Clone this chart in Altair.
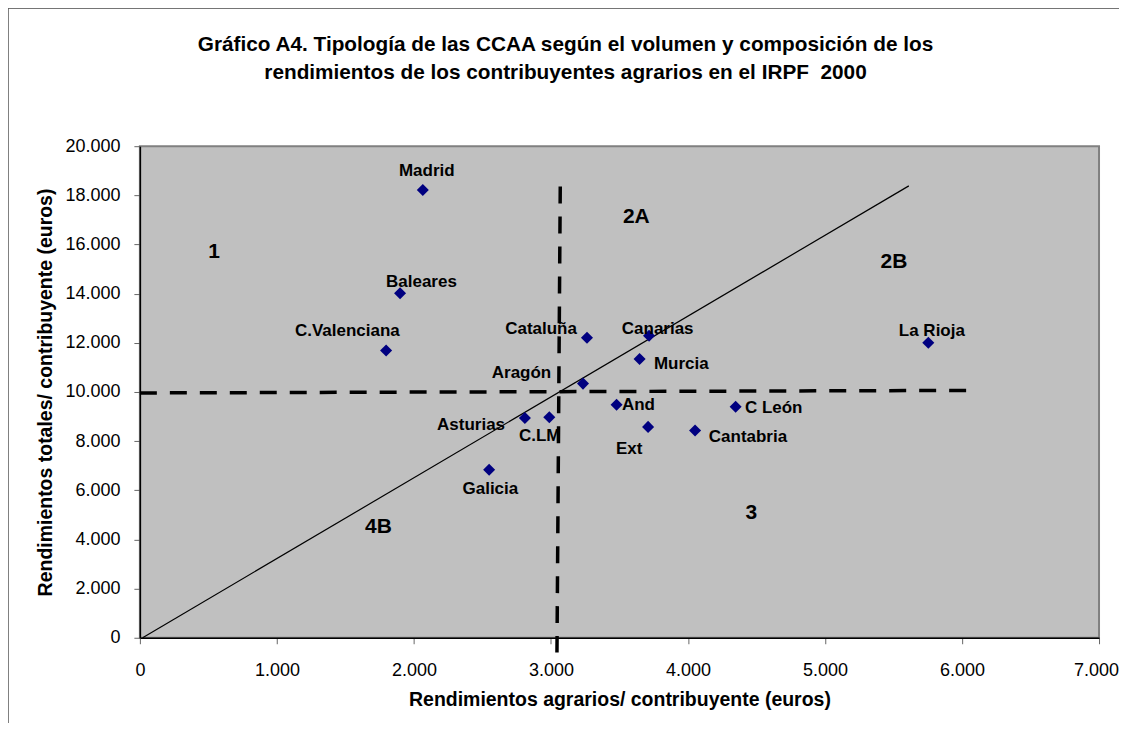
import altair as alt
import pandas as pd

# ---- data ----
regions = ["Madrid", "Baleares", "C.Valenciana", "Cataluña", "Aragón", "Canarias",
           "Murcia", "La Rioja", "And", "C León", "Ext", "Cantabria", "C.LM",
           "Asturias", "Galicia"]
rend_agrarios = [2065, 1899, 1797, 3263, 3234, 3716, 3647, 5754, 3479, 4348,
                 3709, 4052, 2988, 2810, 2549]
rend_totales = [18220, 14020, 11690, 12210, 10340, 12290, 11340, 12000, 9480,
                9400, 8580, 8430, 8970, 8940, 6840]
# where each region's name sits (data units)
label_x = [2094, 2055, 1514, 2928, 2785, 3779, 3951, 5780, 3639, 4626, 3571,
           4438, 2918, 2417, 2558]
label_y = [19008, 14463, 12500, 12573, 10784, 12573, 11158, 12480, 9471, 9350,
           7675, 8183, 8195, 8638, 6061]

zone_names = ["1", "2A", "2B", "4B", "3"]
zone_x = [542, 3623, 5503, 1741, 4463]
zone_y = [15703, 17138, 15268, 4504, 5073]

# dividing lines: horizontal dashed, vertical dashed, diagonal solid
line_kind = ["dash", "dash", "solid"]
line_x1 = [0, 3068, 20]
line_y1 = [9960, 18360, 0]
line_x2 = [6060, 3044, 5612]
line_y2 = [10065, -600, 18386]

title_line1 = "Gráfico A4. Tipología de las CCAA según el volumen y composición de los"
title_line2 = "rendimientos de los contribuyentes agrarios en el IRPF\u00a0 2000"

FONT = "Liberation Sans"

pts = pd.DataFrame({"region": regions, "x": rend_agrarios, "y": rend_totales})
labs = pd.DataFrame({"region": regions, "x": label_x, "y": label_y})
zones = pd.DataFrame({"zone": zone_names, "x": zone_x, "y": zone_y})
lines = pd.DataFrame({"kind": line_kind, "x": line_x1, "y": line_y1,
                      "x2": line_x2, "y2": line_y2})

fmt = "replace(format(datum.value, ','), ',', '.')"
xs = alt.Scale(domain=[0, 7000], nice=False, zero=False)
ys = alt.Scale(domain=[0, 20000], nice=False, zero=False)

xaxis = alt.Axis(title="Rendimientos agrarios/ contribuyente (euros)",
                 values=list(range(0, 7001, 1000)), labelExpr=fmt, grid=False,
                 domainColor="black", domainWidth=1.5, tickColor="#666666",
                 tickSize=6, labelFontSize=18, labelFont=FONT, labelColor="black",
                 labelPadding=18, labelFlush=False,
                 labelOffset={"condition": {"test": "datum.value == 7000", "value": -3},
                              "value": 0},
                 titleFontSize=19.5, titleFont=FONT, titleFontWeight="bold",
                 titleColor="black", titlePadding=11)
yaxis = alt.Axis(title="Rendimientos totales/ contribuyente (euros)",
                 values=list(range(0, 20001, 2000)), labelExpr=fmt, grid=False,
                 domainColor="black", domainWidth=1.5, tickColor="#666666",
                 tickSize=6, labelFontSize=18, labelFont=FONT, labelColor="black",
                 labelPadding=14, labelFlush=False,
                 titleFontSize=19.5, titleFont=FONT, titleFontWeight="bold",
                 titleColor="black", titlePadding=9)

X = alt.X("x:Q", scale=xs, axis=xaxis)
Y = alt.Y("y:Q", scale=ys, axis=yaxis)

dashed = alt.Chart(lines).transform_filter("datum.kind == 'dash'").mark_rule(
    color="black", strokeWidth=3.5, strokeDash=[17, 13]).encode(
    x=X, y=Y, x2="x2:Q", y2="y2:Q")

solid = alt.Chart(lines).transform_filter("datum.kind == 'solid'").mark_rule(
    color="black", strokeWidth=1.2).encode(
    x=X, y=Y, x2="x2:Q", y2="y2:Q")

points = alt.Chart(pts).mark_point(shape="diamond", filled=True, size=145,
                                   color="#000080", opacity=1).encode(x=X, y=Y)

names = alt.Chart(labs).mark_text(font=FONT, fontSize=17, fontWeight="bold",
                                  color="black", baseline="middle").encode(
    x=X, y=Y, text="region:N")

zone_text = alt.Chart(zones).mark_text(font=FONT, fontSize=21, fontWeight="bold",
                                       color="black", baseline="middle").encode(
    x=X, y=Y, text="zone:N")

title1 = alt.Chart().mark_text(font=FONT, fontSize=20.8, fontWeight="bold",
                               color="black", baseline="middle", align="center").encode(
    x=alt.value(426), y=alt.value(-101), text=alt.value(title_line1))
title2 = alt.Chart().mark_text(font=FONT, fontSize=20.8, fontWeight="bold",
                               color="black", baseline="middle", align="center").encode(
    x=alt.value(426), y=alt.value(-73), text=alt.value(title_line2))

border_left = alt.Chart().mark_rule(color="black", strokeWidth=1).encode(
    x=alt.value(-132), y=alt.value(-138), y2=alt.value(600))
border_top = alt.Chart().mark_rule(color="#555555", strokeWidth=1).encode(
    x=alt.value(-132), x2=alt.value(1000), y=alt.value(-138))

chart = alt.layer(dashed, solid, points, names, zone_text, title1, title2,
                  border_left, border_top).properties(
    width=960, height=492,
    autosize=alt.AutoSizeParams(type="none"),
    padding={"left": 132, "top": 138, "right": 20, "bottom": 85},
    background="white",
).configure_view(fill="#C0C0C0", stroke="#808080", strokeWidth=2)

chart.save("out.html", embed_options={"renderer": "svg", "actions": False})
